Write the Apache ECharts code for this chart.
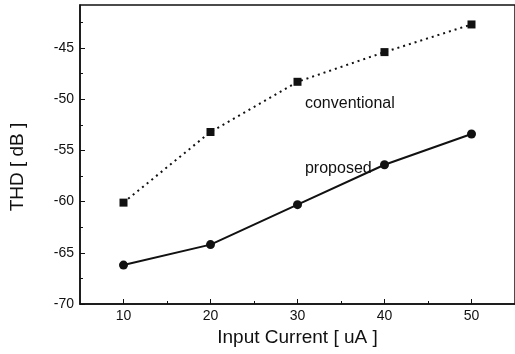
<!DOCTYPE html>
<html>
<head>
<meta charset="utf-8">
<script src="https://cdn.jsdelivr.net/npm/echarts@6/dist/echarts.min.js"></script>
<style>
  html, body { margin: 0; padding: 0; background: #fff; }
  #chart { width: 515px; height: 354px; }
</style>
</head>
<body>
<div id="chart"></div>
<script>
// x values (input current, uA)
var currents = [10, 20, 30, 40, 50];
// THD in dB
var conventional = [-60.1, -53.2, -48.3, -45.4, -42.7];
var proposed = [-66.2, -64.2, -60.3, -56.4, -53.4];
// tick labels
var xTicks = [10, 20, 30, 40, 50];
var xMinor = [15, 25, 35, 45];
var yTicks = [-70, -65, -60, -55, -50, -45];
var yMinor = [-67.5, -62.5, -57.5, -52.5, -47.5, -42.5];

var chart = echarts.init(document.getElementById('chart'));

function pairs(ys) {
  return currents.map(function (x, i) { return [x, ys[i]]; });
}

var ink = '#111';
var font = 'Liberation Sans, Arial, sans-serif';

// text placed next to a curve, anchored in data coordinates
function note(text, x, y) {
  return {
    symbol: 'circle',
    symbolSize: 1,
    itemStyle: { color: 'rgba(0,0,0,0)' },
    data: [{ coord: [x, y], value: text }],
    label: { show: true, position: 'right', distance: 0, formatter: text, color: ink, fontSize: 16, fontFamily: font }
  };
}

var option = {
  animation: false,
  backgroundColor: '#fff',
  grid: {
    left: 79, right: -2, top: 5, bottom: 50,
    show: true,
    borderColor: ink,
    borderWidth: 1.5
  },
  xAxis: [
    {
      type: 'value', min: 5, max: 55,
      name: 'Input Current [ uA ]',
      nameLocation: 'middle',
      nameGap: 15,
      nameTextStyle: { color: ink, fontSize: 19, fontFamily: font },
      axisLine: { show: true, lineStyle: { color: ink, width: 1.5 } },
      axisTick: { show: true, inside: true, length: 5, customValues: xTicks, lineStyle: { color: ink } },
      axisLabel: { customValues: xTicks, color: ink, fontSize: 14, fontFamily: font, margin: 5 },
      splitLine: { show: false }
    },
    {
      type: 'value', min: 5, max: 55, position: 'bottom',
      axisLine: { show: false },
      axisTick: { show: true, inside: true, length: 3, customValues: xMinor, lineStyle: { color: ink } },
      axisLabel: { show: false },
      splitLine: { show: false }
    }
  ],
  yAxis: [
    {
      type: 'value', min: -70, max: -40.8,
      name: 'THD [ dB ]',
      nameLocation: 'middle',
      nameGap: 53,
      nameTextStyle: { color: ink, fontSize: 19, fontFamily: font, padding: [0, 25, 0, 0] },
      axisLine: { show: true, lineStyle: { color: ink, width: 1.5 } },
      axisTick: { show: true, inside: true, length: 5, customValues: yTicks, lineStyle: { color: ink } },
      axisLabel: { customValues: yTicks, color: ink, fontSize: 14, fontFamily: font, margin: 6 },
      splitLine: { show: false }
    },
    {
      type: 'value', min: -70, max: -40.8, position: 'left',
      axisLine: { show: false },
      axisTick: { show: true, inside: true, length: 3, customValues: yMinor, lineStyle: { color: ink } },
      axisLabel: { show: false },
      splitLine: { show: false }
    }
  ],
  series: [
    {
      name: 'conventional',
      type: 'line',
      data: pairs(conventional),
      symbol: 'rect',
      symbolSize: 8,
      itemStyle: { color: ink },
      lineStyle: { color: ink, width: 2, type: [2, 4] },
      markPoint: note('conventional', 30.8, -50.4)
    },
    {
      name: 'proposed',
      type: 'line',
      data: pairs(proposed),
      symbol: 'circle',
      symbolSize: 9,
      itemStyle: { color: ink },
      lineStyle: { color: ink, width: 2 },
      markPoint: note('proposed', 30.8, -56.8)
    }
  ]
};

chart.setOption(option);
</script>
</body>
</html>
